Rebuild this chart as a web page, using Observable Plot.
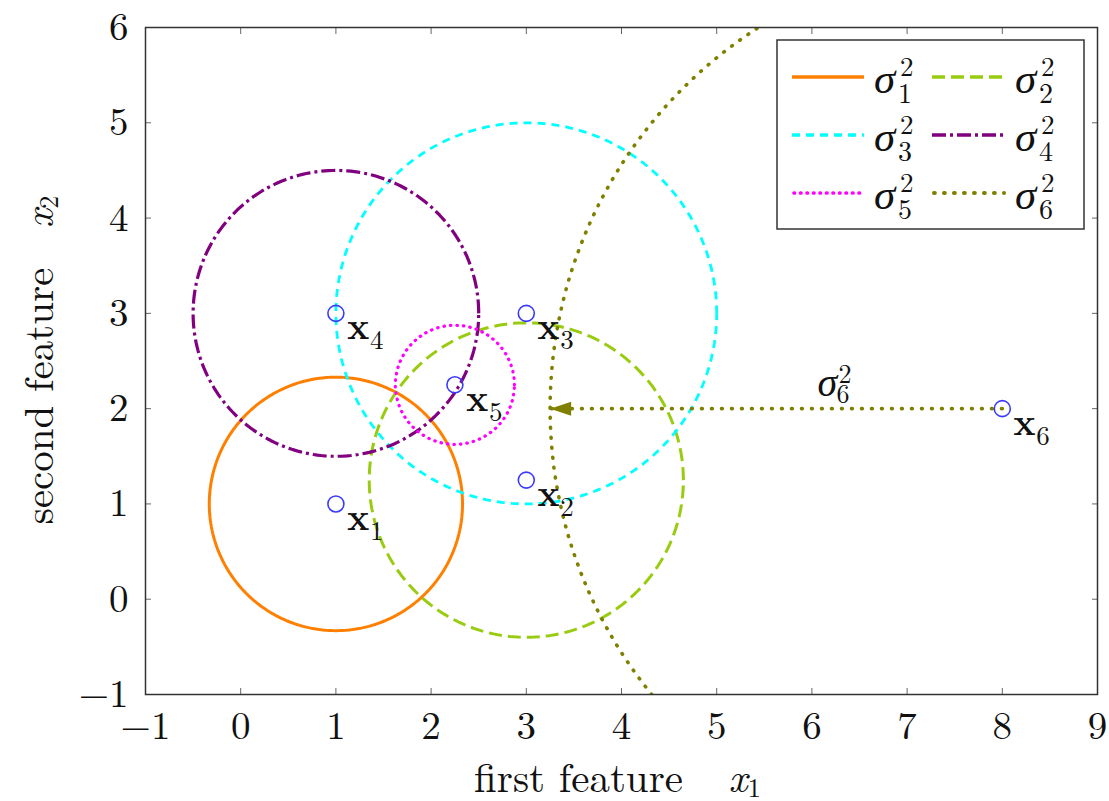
<!DOCTYPE html>
<html><head><meta charset="utf-8">
<script src="https://cdn.jsdelivr.net/npm/d3@7"></script>
<script src="https://cdn.jsdelivr.net/npm/@observablehq/plot@0.6"></script>
<style>
html,body{margin:0;padding:0;background:#fff;}
#wrap{position:relative;width:1109px;height:801px;overflow:hidden;font-family:'Latin Modern Roman','Liberation Serif',serif;}
#wrap svg text{font-family:'Latin Modern Roman','Liberation Serif',serif;}
#legend{position:absolute;left:0;top:0;pointer-events:none;}
</style></head><body><div id="wrap"></div>
<script>
// ---- data ----
const pointIds = ["1","2","3","4","5","6"];
const pointX = [1, 3, 3, 1, 2.25, 8];
const pointY = [1, 1.25, 3, 3, 2.25, 2];
const radii = [1.33, 1.65, 2, 1.5, 0.625, 4.75];   // variance circles around each point
const seriesIds = ["1","2","3","4","5","6"];
const xTicks = [-1,0,1,2,3,4,5,6,7,8,9];
const yTicks = [-1,0,1,2,3,4,5,6];
const xLabel = "first feature";
const yLabel = "second feature";

// ---- styles ----
const colors = ["#ff8000","#99cc11","#00ffff","#800080","#ff00ff","#808000"];
const dashes = [null,"13,6","8,6","14,4,3,4","0.5,6","0.8,9.2"];
const caps = ["butt","butt","butt","butt","round","round"];
const widths = [3,3,2.8,3.2,3.2,3.6];
const FONT = "Latin Modern Roman, Liberation Serif, serif";

const points = pointIds.map((id,i)=>({id, x: pointX[i], y: pointY[i]}));
// circle outlines built from centre + radius
const circles = seriesIds.map((id,i)=>d3.range(0, 360.01, 1.5).map(a=>({
  x: pointX[i] + radii[i]*Math.cos(a*Math.PI/180),
  y: pointY[i] + radii[i]*Math.sin(a*Math.PI/180)
})));
// arrow from x6 to the edge of its circle
const arrow = [{x: pointX[5], y: pointY[5]}, {x: pointX[5]-radii[5], y: pointY[5]}];
const arrowLabel = [{x: 6.06, y: pointY[5]}];

const fmt = d => d < 0 ? "\u2212" + Math.abs(d) : String(d);
const headSymbol = {draw(ctx){ ctx.moveTo(0,0); ctx.lineTo(21,-7); ctx.lineTo(21,7); ctx.closePath(); }};
const T = (opts) => ({fontFamily: FONT, fill: "#111", ...opts});

const marks = [];
circles.forEach((c,i)=>{
  marks.push(Plot.line(c, {x:"x", y:"y", stroke: colors[i], strokeWidth: widths[i],
    strokeDasharray: dashes[i] || undefined, strokeLinecap: caps[i], clip: true, curve: "linear"}));
});
marks.push(
  Plot.line(arrow, {x:"x", y:"y", stroke: colors[5], strokeWidth: 3.6, strokeDasharray: dashes[5], strokeLinecap: "round"}),
  Plot.dot([arrow[1]], {x:"x", y:"y", symbol: headSymbol, r: 5, fill: colors[5], stroke: "none"}),
  Plot.text(arrowLabel, T({x:"x", y:"y", text: ()=>"\u03c3", fontStyle:"italic", fontSize: 40, textAnchor:"start", lineAnchor:"bottom", dy: -13})),
  Plot.text(arrowLabel, T({x:"x", y:"y", text: ()=>"6", fontSize: 26, textAnchor:"start", lineAnchor:"bottom", dx: 19, dy: -6})),
  Plot.text(arrowLabel, T({x:"x", y:"y", text: ()=>"2", fontSize: 26, textAnchor:"start", lineAnchor:"bottom", dx: 21, dy: -26})),
  Plot.dot(points, {x:"x", y:"y", r: 8, stroke: "#3a3aff", strokeWidth: 1.6, fill: "none"}),
  Plot.text(points, T({x:"x", y:"y", text: ()=>"x", fontWeight:"bold", fontSize: 37, textAnchor:"start", lineAnchor:"bottom", dx: 11, dy: 26})),
  Plot.text(points, T({x:"x", y:"y", text: "id", fontSize: 27, textAnchor:"start", lineAnchor:"bottom", dx: 34, dy: 36})),
  // axes: inward ticks on all four sides
  Plot.axisX({ticks: xTicks, anchor:"bottom", tickSize: 6, dy: -6, fill: "none", stroke:"#666"}),
  Plot.axisX({ticks: xTicks, anchor:"top", tickSize: 6, dy: 6, fill: "none", stroke:"#666"}),
  Plot.axisY({ticks: yTicks, anchor:"left", tickSize: 6, dx: 6, fill: "none", stroke:"#666"}),
  Plot.axisY({ticks: yTicks, anchor:"right", tickSize: 6, dx: -6, fill: "none", stroke:"#666"}),
  Plot.axisX({ticks: xTicks, anchor:"bottom", tickSize: 0, tickPadding: 17, tickFormat: fmt, fontSize: 39, fontFamily: FONT, label: null, fill:"#111"}),
  Plot.axisY({ticks: yTicks, anchor:"left", tickSize: 0, tickPadding: 17, tickFormat: fmt, fontSize: 39, fontFamily: FONT, label: null, fill:"#111"}),
  Plot.frame({stroke:"#333", strokeWidth: 1.5}),
  // axis titles
  Plot.text([xLabel], T({frameAnchor:"bottom", text: d=>d, fontSize: 41, textAnchor:"middle", lineAnchor:"bottom", dx: -43, dy: 97})),
  Plot.text(["x"], T({frameAnchor:"bottom", text: d=>d, fontSize: 41, fontStyle:"italic", textAnchor:"start", lineAnchor:"bottom", dx: 107, dy: 97})),
  Plot.text(["1"], T({frameAnchor:"bottom", text: d=>d, fontSize: 27, textAnchor:"start", lineAnchor:"bottom", dx: 126, dy: 102})),
  Plot.text([yLabel], T({frameAnchor:"left", text: d=>d, fontSize: 41, rotate: -90, textAnchor:"middle", lineAnchor:"bottom", dx: -93, dy: 35})),
  Plot.text(["x"], T({frameAnchor:"left", text: d=>d, fontSize: 41, fontStyle:"italic", rotate: -90, textAnchor:"start", lineAnchor:"bottom", dx: -93, dy: -133})),
  Plot.text(["2"], T({frameAnchor:"left", text: d=>d, fontSize: 27, rotate: -90, textAnchor:"start", lineAnchor:"bottom", dx: -88, dy: -152}))
);

const chart = Plot.plot({
  width: 1109, height: 801,
  marginLeft: 145, marginRight: 12, marginTop: 27, marginBottom: 107,
  x: {domain: [-1, 9]},
  y: {domain: [-1, 6]},
  style: {fontFamily: FONT, fontSize: "38px", background: "#fff", color: "#111"},
  marks
});
const wrap = document.getElementById("wrap");
wrap.appendChild(chart);

// ---- legend (inside the plot area, top right) ----
const leg = d3.select(wrap).append("svg").attr("id","legend").attr("width",1109).attr("height",801);
leg.append("rect").attr("x",777).attr("y",40).attr("width",307).attr("height",189)
  .attr("fill","#fff").attr("stroke","#333").attr("stroke-width",1.5);
const colX = [792, 932], labX = [874, 1015], rowY = [77, 135, 193];
seriesIds.forEach((id,i)=>{
  const c = i % 2, r = Math.floor(i/2);
  const y = rowY[r];
  leg.append("line").attr("x1",colX[c]+(caps[i]==="round"?2:0)).attr("x2",colX[c]+72).attr("y1",y).attr("y2",y)
    .attr("stroke",colors[i]).attr("stroke-width",widths[i]+0.5)
    .attr("stroke-linecap",caps[i])
    .attr("stroke-dasharray", dashes[i] || null);
  leg.append("text").attr("font-family",FONT).attr("x",labX[c]).attr("y",y+16).attr("font-size",43).attr("font-style","italic").attr("fill","#111").text("\u03c3");
  leg.append("text").attr("font-family",FONT).attr("x",labX[c]+24).attr("y",y+26).attr("font-size",28).attr("fill","#111").text(id);
  leg.append("text").attr("font-family",FONT).attr("x",labX[c]+26).attr("y",y-1).attr("font-size",27).attr("fill","#111").text("2");
});
</script></body></html>
